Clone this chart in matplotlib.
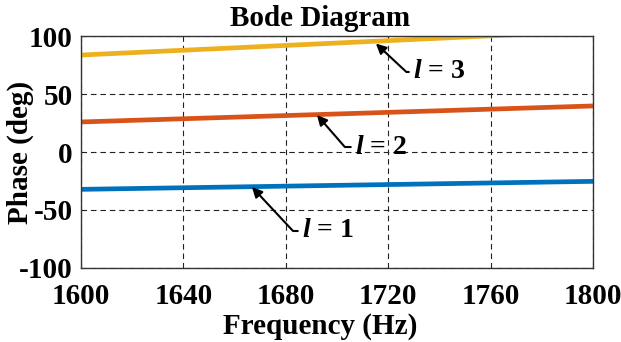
import numpy as np
import matplotlib.pyplot as plt

plt.rcParams['font.family'] = ['Liberation Serif', 'DejaVu Serif']
plt.rcParams['font.weight'] = 'bold'
plt.rcParams['axes.labelweight'] = 'bold'
plt.rcParams['axes.unicode_minus'] = False
plt.rcParams['mathtext.fontset'] = 'custom'
plt.rcParams['mathtext.it'] = 'Liberation Serif:italic:bold'
plt.rcParams['mathtext.rm'] = 'Liberation Serif:bold'

# phase of each mode, end points of the (straight) segments
freq = [1600, 1800]
phase_l1 = [-32.2, -25.3]
phase_l2 = [25.9, 39.7]
phase_l3 = [83.6, 104.3]

labels = ['$\\mathit{l}$ = 1', '$\\mathit{l}$ = 2', '$\\mathit{l}$ = 3']
arrow_tips = [(1666.8, -30.2), (1692.2, 31.9), (1715.2, 93.5)]
label_pos = [(1686.3, -68.1), (1707.0, 4.3), (1729.7, 69.0)]
arrow_angles = [-47, -49, -43]

xticks = [1600, 1640, 1680, 1720, 1760, 1800]
yticks = [-100, -50, 0, 50, 100]

colors = ['#0072BD', '#D95319', '#EDB120']

fig = plt.figure(figsize=(6.21, 3.42), dpi=100)
ax = fig.add_axes([0.1304, 0.2164, 0.8245, 0.6783])

for ph, c in zip([phase_l1, phase_l2, phase_l3], colors):
    ax.plot(freq, ph, color=c, lw=3.4, solid_capstyle='butt')

ax.set_xlim(1600, 1800)
ax.set_ylim(-100, 100)
ax.set_xticks(xticks)
ax.set_yticks(yticks)
ax.tick_params(length=0, labelsize=21)
ax.tick_params(axis='x', pad=11)
ax.tick_params(axis='y', pad=6)
ax.grid(True, color='#222222', lw=0.8, ls=(0, (5, 3.5)))
for s in ax.spines.values():
    s.set_color('#333333')
    s.set_linewidth(1.0)

for lab, tip, pos, ang in zip(labels, arrow_tips, label_pos, arrow_angles):
    ax.annotate(lab, xy=tip, xytext=pos, fontsize=20, ha='left', va='center',
                arrowprops=dict(arrowstyle='-|>', color='black', lw=1.5,
                                mutation_scale=15, shrinkA=1, shrinkB=0,
                                relpos=(0, 0.5),
                                connectionstyle=f'angle,angleA=0,angleB={ang},rad=0'))

ax.set_xlabel('Frequency (Hz)', fontsize=21)
ax.set_ylabel('Phase (deg)', fontsize=21)
ax.xaxis.set_label_coords(0.467, -0.195)
ax.yaxis.set_label_coords(-0.092, 0.5)
fig.text(0.515, 0.947, 'Bode Diagram', fontsize=21, ha='center', va='center')

fig.savefig('out.png', dpi=100)
